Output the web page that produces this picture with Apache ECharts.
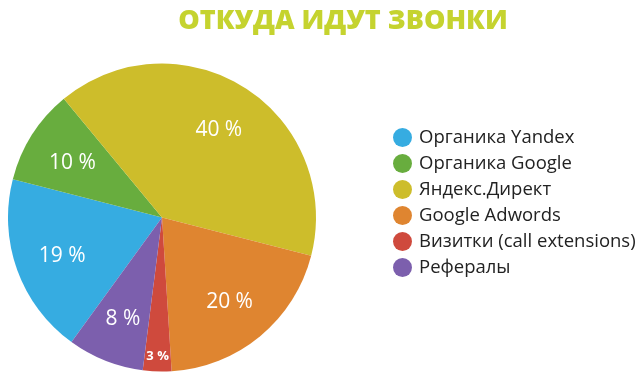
<!DOCTYPE html>
<html>
<head>
<meta charset="utf-8">
<script src="https://cdn.jsdelivr.net/npm/echarts@6/dist/echarts.min.js"></script>
<style>
  html, body { margin: 0; padding: 0; background: #fff; }
  #main { width: 644px; height: 378px; }
</style>
</head>
<body>
<div id="main"></div>
<script>
// данные
var names = ['Органика Yandex', 'Органика Google', 'Яндекс.Директ', 'Google Adwords', 'Визитки (call extensions)', 'Рефералы'];
var values = [19, 10, 40, 20, 3, 8];
var colors = ['#36ace1', '#68ad3e', '#cdbd2b', '#df8530', '#cf4a3d', '#7c5fad'];
var smallIdx = 4; // маленький сектор, подпись ближе к краю

var myChart = echarts.init(document.getElementById('main'));

var pieData = names.map(function(n, i){
    return { name: n, value: values[i], itemStyle: { color: colors[i] } };
});
// подписи внутри
var labelData = names.map(function(n, i){
    return { name: n, value: values[i], label: { show: i != smallIdx } };
});
var smallData = names.map(function(n, i){
    return { name: n, value: values[i], label: { show: i == smallIdx } };
});

var font = '"Open Sans", "Noto Sans", sans-serif';
var clear = { color: 'rgba(0,0,0,0)', borderWidth: 0 };

var option = {
    backgroundColor: '#fff',
    animation: false,
    title: {
        text: 'ОТКУДА ИДУТ ЗВОНКИ',
        left: 338,
        textAlign: 'center',
        top: 3,
        textStyle: { color: '#c5d32f', fontSize: 27, fontWeight: 800, fontFamily: font }
    },
    legend: {
        orient: 'vertical',
        left: 388,
        top: 123,
        icon: 'circle',
        itemWidth: 19,
        itemHeight: 19,
        itemGap: 7,
        data: names,
        textStyle: { color: '#222', fontSize: 18.5, fontFamily: font, padding: [0, 0, 0, 2] }
    },
    series: [{
        type: 'pie',
        center: [162, 217.5],
        radius: 154,
        startAngle: 234,
        label: { show: false },
        labelLine: { show: false },
        silent: true,
        data: pieData
    }, {
        type: 'pie',
        center: [162, 220],
        radius: [52, 154],
        startAngle: 234,
        silent: true,
        itemStyle: clear,
        label: {
            position: 'inside',
            formatter: '{c} %',
            color: '#fff',
            fontSize: 21,
            fontFamily: font
        },
        labelLine: { show: false },
        data: labelData
    }, {
        type: 'pie',
        center: [162, 217.5],
        radius: [118, 154],
        startAngle: 234,
        silent: true,
        itemStyle: clear,
        label: {
            position: 'inside',
            formatter: '{c} %',
            color: '#fff',
            fontSize: 13,
            fontWeight: 'bold',
            fontFamily: font
        },
        labelLine: { show: false },
        data: smallData
    }]
};

myChart.setOption(option);
</script>
</body>
</html>
